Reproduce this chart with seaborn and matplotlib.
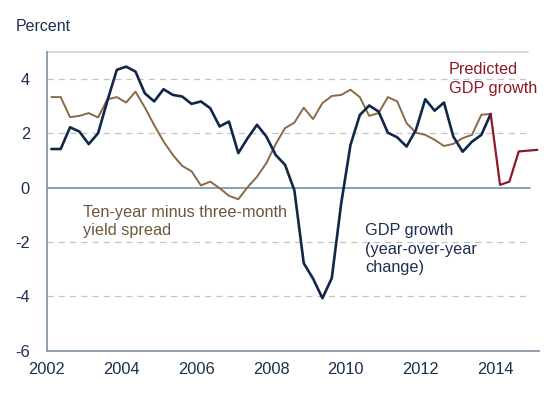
import numpy as np
import pandas as pd
import seaborn as sns
import matplotlib.pyplot as plt

sns.set_style("white")
plt.rcParams['font.family'] = ['Liberation Sans', 'DejaVu Sans']

# quarterly data, 2002Q1 - 2013Q4 (plotted at mid-quarter)
gdp_growth = [1.42, 1.42, 2.22, 2.06, 1.60, 2.00, 3.20, 4.33, 4.45, 4.27, 3.47, 3.17,
              3.62, 3.41, 3.35, 3.08, 3.17, 2.92, 2.25, 2.43, 1.27, 1.82, 2.31, 1.88,
              1.20, 0.84, -0.10, -2.78, -3.35, -4.07, -3.33, -0.60, 1.57, 2.67, 3.02, 2.80,
              2.02, 1.85, 1.51, 2.12, 3.25, 2.83, 3.13, 1.88, 1.32, 1.69, 1.94, 2.71]
yield_spread = [3.33, 3.33, 2.59, 2.64, 2.74, 2.58, 3.25, 3.33, 3.13, 3.53, 2.95, 2.30,
                1.70, 1.20, 0.80, 0.60, 0.08, 0.22, -0.02, -0.30, -0.43, 0.02, 0.40, 0.90,
                1.60, 2.19, 2.39, 2.94, 2.52, 3.11, 3.37, 3.41, 3.60, 3.33, 2.64, 2.74,
                3.33, 3.17, 2.37, 2.02, 1.94, 1.76, 1.53, 1.61, 1.82, 1.94, 2.68, 2.71]
# prediction, 2013Q4 - 2015Q1
predicted = [2.71, 0.10, 0.22, 1.33, 1.36, 1.39]

quarters = pd.period_range("2002Q1", "2015Q1", freq="Q")
qyear = quarters.year + (quarters.quarter - 0.5) / 4

hist = pd.DataFrame({"date": qyear[:48], "gdp": gdp_growth, "spread": yield_spread})
pred = pd.DataFrame({"date": qyear[47:], "pred": predicted})

navy = "#0f2748"
brown = "#8a6a46"
red = "#8b1a24"
axis_col = "#8797a8"
text_col = "#1b2f4f"

fig, ax = plt.subplots(figsize=(5.49, 3.97), dpi=100)
fig.subplots_adjust(left=0.085, right=0.982, bottom=0.1166, top=0.8698)

for y in [-4, -2, 2, 4]:
    ax.axhline(y, xmax=0.982, color="#c4c4c4", lw=0.9, ls=(0, (5, 4)), zorder=0)
ax.axhline(0, xmax=0.982, color="#7d9ab2", lw=1.3, zorder=1)
ax.axhline(5, xmax=0.977, color="#d2d2d2", lw=1.2, zorder=0)

sns.lineplot(data=hist, x="date", y="spread", color=brown, lw=1.4, ax=ax, zorder=3)
sns.lineplot(data=hist, x="date", y="gdp", color=navy, lw=1.9, ax=ax, zorder=4)
sns.lineplot(data=pred, x="date", y="pred", color=red, lw=1.6, ax=ax, zorder=5)
for line in ax.lines:
    line.set_clip_on(False)

ax.set_xlim(2002, 2015.17)
ax.set_ylim(-6, 5)
ax.set_xlabel("")
ax.set_ylabel("")

ax.set_xticks(range(2002, 2015, 2))
ax.set_xticklabels([str(y) for y in range(2002, 2015, 2)])
ax.set_yticks(range(-6, 5, 2))
ax.set_yticklabels([str(v) for v in range(-6, 5, 2)])
ax.tick_params(axis="x", direction="in", length=4, width=0.9, color=axis_col,
               labelsize=11.8, labelcolor=text_col, pad=8)
ax.tick_params(axis="y", length=0, labelsize=11.8, labelcolor=text_col, pad=12)
for lbl in ax.get_xticklabels() + ax.get_yticklabels():
    lbl.set_fontweight("medium")

for side in ["top", "right"]:
    ax.spines[side].set_visible(False)
for side in ["left", "bottom"]:
    ax.spines[side].set_color(axis_col)
    ax.spines[side].set_linewidth(1.3)

ax.text(2002.98, -1.25, "Ten-year minus three-month\nyield spread", color="#6e563c",
        fontsize=11.7, ha="left", va="center", linespacing=1.2)
ax.text(2010.52, -2.26, "GDP growth\n(year-over-year\nchange)", color=text_col,
        fontsize=11.7, ha="left", va="center", linespacing=1.3)
ax.text(2012.76, 3.99, "Predicted\nGDP growth", color=red,
        fontsize=11.7, ha="left", va="center", linespacing=1.3)

fig.text(0.0286, 0.934, "Percent", color=text_col, fontsize=11.5, ha="left", va="center")

fig.savefig("out.png", dpi=100)
